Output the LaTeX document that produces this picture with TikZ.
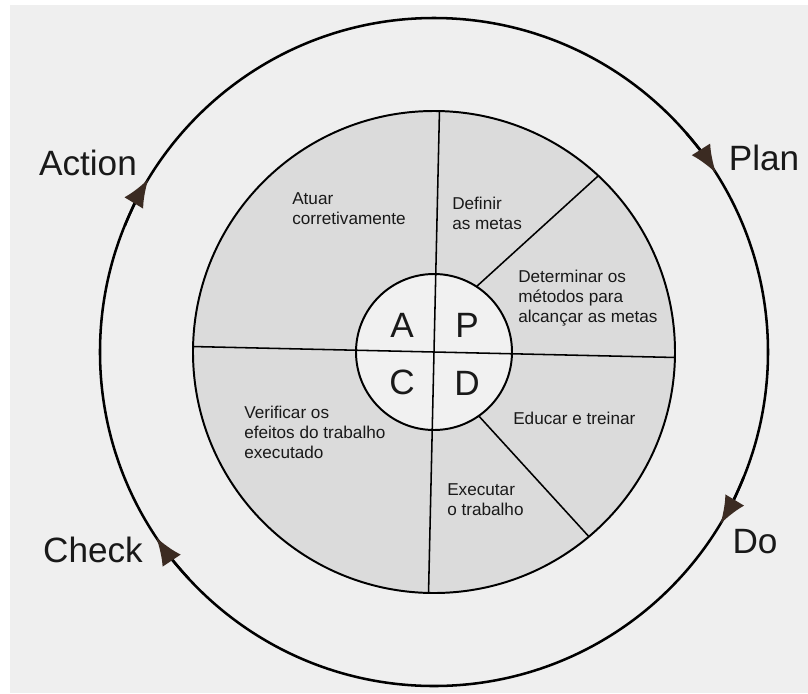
\documentclass[tikz,border=0pt]{standalone}
\usepackage{fontspec}
\setmainfont{Liberation Sans}
\usetikzlibrary{arrows.meta}
\definecolor{paper}{HTML}{EFEFEF}
\definecolor{sector}{HTML}{DBDBDB}
\definecolor{hub}{HTML}{F1F1F1}
\definecolor{tipbrown}{HTML}{3B2B22}
\tikzset{
  smalltxt/.style={inner sep=0pt, anchor=west, align=left, text=black!90,
    font=\fontsize{12.2pt}{14.2pt}\selectfont},
  bigtxt/.style={inner sep=0pt, text=black!90, font=\fontsize{25pt}{30pt}\selectfont},
  cycletip/.style={line width=1.8pt, -{Latex[length=0.7cm, width=0.55cm, color=tipbrown]}}
}

\begin{document}
\begin{tikzpicture}[x=0.025cm, y=0.025cm]
  \def\Ro{334};
  \def\Ri{241};
  \def\Rc{78};
  \def\Tilt{-1.3};
  \useasboundingbox (-434,-341) rectangle (374,352);
  \fill[white] (-434,-341) rectangle (374,352);
  \fill[paper] (-424,-341) rectangle (374,347);

        \fill[sector] (0,0) circle (\Ri);
        \fill[hub] (0,0) circle (\Rc);

        \draw[line width=1.1pt] (180+\Tilt:\Ri) -- (\Tilt:\Ri);
        \draw[line width=1.1pt] (90+\Tilt:\Ri) -- (270+\Tilt:\Ri);
        \draw[line width=1.1pt] (57:\Rc) -- (47:\Ri);
        \draw[line width=1.1pt] (-55:\Rc) -- (-50:\Ri);

        \draw[line width=1.4pt] (0,0) circle (\Ri);
        \draw[line width=1.4pt] (0,0) circle (\Rc);
        \draw[line width=1.8pt] (0,0) circle (\Ro);

        \draw[cycletip] (41:\Ro) arc (41:32.4:\Ro);
        \draw[cycletip] (-22:\Ro) arc (-22:-31:\Ro);
        \draw[cycletip] (222.7:\Ro) arc (222.7:213.7:\Ro);
        \draw[cycletip] (157.8:\Ro) arc (157.8:148.8:\Ro);

        \node[bigtxt] (plan) at (330, 194) {Plan};
        \node[bigtxt] (do) at (321, -190) {Do};
        \node[bigtxt] (check) at (-341, -198) {Check};
        \node[bigtxt] (action) at (-346, 189) {Action};

        \node[bigtxt] (a) at (-32, 27) {A};
        \node[bigtxt] (p) at (33, 27) {P};
        \node[bigtxt] (c) at (-32, -30) {C};
        \node[bigtxt] (d) at (33, -31) {D};

        \node[smalltxt] (atuar) at (-142, 143) {Atuar\\corretivamente};
        \node[smalltxt] (definir) at (18, 139) {Definir\\as metas};
        \node[smalltxt] (determinar) at (84, 54) {Determinar os\\métodos para\\alcançar as metas};
        \node[smalltxt] (educar) at (79, -66) {Educar e treinar};
        \node[smalltxt] (executar) at (13, -148) {Executar\\o trabalho};
        \node[smalltxt] (verificar) at (-190, -80) {Verificar os\\efeitos do trabalho\\executado};

\end{tikzpicture}
\end{document}
